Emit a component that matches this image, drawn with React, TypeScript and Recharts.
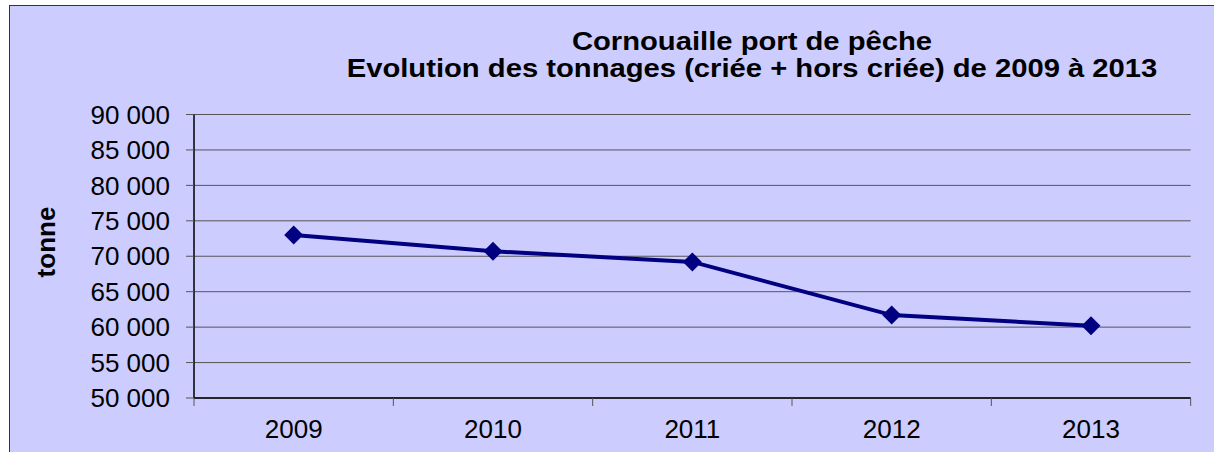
import React from 'react';
import { LineChart, Line, XAxis, YAxis, CartesianGrid } from 'recharts';

const years = ['2009', '2010', '2011', '2012', '2013'];
const tonnage = [73000, 70700, 69200, 61700, 60200];
const yTicks = [50000, 55000, 60000, 65000, 70000, 75000, 80000, 85000, 90000];
const titleLines = ['Cornouaille port de pêche', 'Evolution des tonnages (criée + hors criée) de 2009 à 2013'];
const yLabel = 'tonne';

const data = years.map((y, i) => ({ year: y, value: tonnage[i] }));

const FONT = '"Liberation Sans", Arial, sans-serif';

const fmt = (v: number) => {
  const s = String(Math.round(v));
  return s.replace(/\B(?=(\d{3})+(?!\d))/g, ' ');
};

const Diamond = (props: any) => {
  const { cx, cy } = props;
  if (cx == null || cy == null) return null;
  const r = 9.5;
  return (
    <polygon
      points={`${cx},${cy - r} ${cx + r},${cy} ${cx},${cy + r} ${cx - r},${cy}`}
      fill="#000080"
      stroke="none"
    />
  );
};

// category label plus tick marks on the category boundaries (Excel style)
const CatTick = (props: any) => {
  const { x, y, payload, index, width, visibleTicksCount } = props;
  const n = visibleTicksCount || years.length;
  const band = typeof width === 'number' ? width / n : 0;
  const axisY = y - 22;
  return (
    <g>
      {band > 0 && (
        <line x1={x - band / 2} x2={x - band / 2} y1={axisY} y2={axisY + 8} stroke="#555" strokeWidth={1} />
      )}
      {band > 0 && index === n - 1 && (
        <line x1={x + band / 2} x2={x + band / 2} y1={axisY} y2={axisY + 8} stroke="#555" strokeWidth={1} />
      )}
      <text x={x} y={y} dy="0.71em" textAnchor="middle" fontSize={26} fill="#000" fontFamily={FONT}>
        {payload.value}
      </text>
    </g>
  );
};

const YLabel = () => (
  <text
    x={55}
    y={242}
    transform="rotate(-90 55 242)"
    textAnchor="middle"
    fontFamily={FONT}
    fontSize={26}
    fontWeight="bold"
    fill="#000"
  >
    {yLabel}
  </text>
);

export default function App() {
  return (
    <div
      style={{
        position: 'absolute',
        left: 0,
        top: 0,
        width: 1214,
        height: 452,
        overflow: 'hidden',
        background: '#fff',
      }}
    >
      <div
        style={{
          position: 'absolute',
          left: 9,
          top: 5,
          width: 1300,
          height: 600,
          background: '#CCCCFF',
          borderTop: '1px solid #333',
          borderLeft: '1px solid #333',
          boxSizing: 'border-box',
        }}
      />
      <div
        style={{
          position: 'absolute',
          left: 251.5,
          top: 28,
          width: 1000,
          textAlign: 'center',
          fontFamily: FONT,
          fontWeight: 'bold',
          fontSize: 26,
          lineHeight: '26.5px',
          color: '#000',
          transform: 'scaleX(1.123)',
          transformOrigin: 'center',
          whiteSpace: 'nowrap',
        }}
      >
        {titleLines.map((t) => (
          <div key={t}>{t}</div>
        ))}
      </div>
      <div style={{ position: 'absolute', left: 0, top: 0 }}>
        <LineChart
          width={1214}
          height={452}
          data={data}
          margin={{ top: 114.5, right: 23.3, bottom: 0, left: 0 }}
        >
          <CartesianGrid vertical={false} stroke="#555" strokeWidth={1} />
          <XAxis
            dataKey="year"
            height={54}
            padding={{ left: 99.7, right: 99.7 }}
            axisLine={{ stroke: '#000', strokeWidth: 1.5 }}
            tickLine={false}
            tickSize={0}
            tickMargin={22}
            tick={<CatTick />}
            interval={0}
          />
          <YAxis
            width={194}
            domain={[50000, 90000]}
            ticks={yTicks}
            interval={0}
            tickFormatter={fmt}
            axisLine={{ stroke: '#000', strokeWidth: 1.5 }}
            tickLine={{ stroke: '#555' }}
            tickSize={8}
            tickMargin={16}
            tick={{ fontSize: 26, fill: '#000', fontFamily: FONT }}
            label={<YLabel />}
          />
          <Line
            type="linear"
            dataKey="value"
            stroke="#000080"
            strokeWidth={4}
            dot={<Diamond />}
            activeDot={false}
            isAnimationActive={false}
          />
        </LineChart>
      </div>
    </div>
  );
}
